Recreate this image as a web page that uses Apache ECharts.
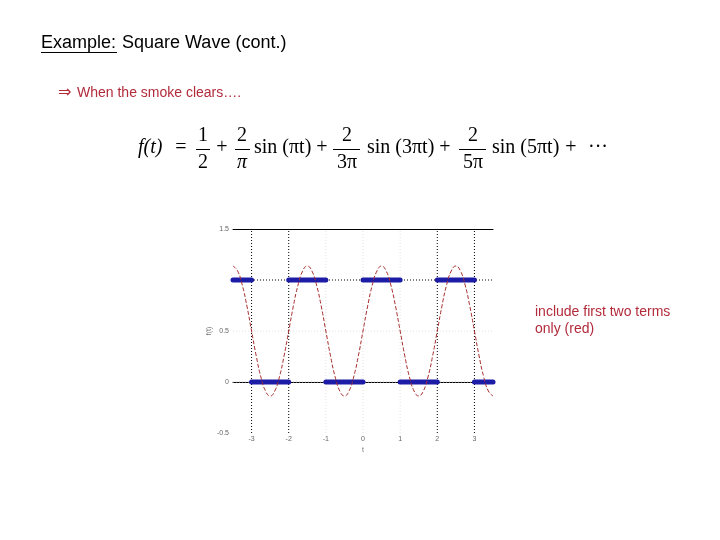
<!DOCTYPE html>
<html><head><meta charset="utf-8">
<script src="https://cdn.jsdelivr.net/npm/echarts@6/dist/echarts.min.js"></script>
<style>html,body{margin:0;padding:0;background:#fff}#c{width:720px;height:540px}</style>
</head><body><div id="c"></div>
<script>
// ---- data ----
const xTickLabels = [-3, -2, -1, 0, 1, 2, 3];
const yTickLabels = [-0.5, 0, 0.5, 1.5];
const squareStart = [-3.5, -3, -2, -1, 0, 1, 2, 3];
const squareEnd   = [-3, -2, -1, 0, 1, 2, 3, 3.5];
const squareLevel = [1, 0, 1, 0, 1, 0, 1, 0];
const redT = [-3.5,-3.375,-3.25,-3.125,-3,-2.875,-2.75,-2.625,-2.5,-2.375,-2.25,-2.125,-2,-1.875,-1.75,-1.625,-1.5,-1.375,-1.25,-1.125,-1,-0.875,-0.75,-0.625,-0.5,-0.375,-0.25,-0.125,0,0.125,0.25,0.375,0.5,0.625,0.75,0.875,1,1.125,1.25,1.375,1.5,1.625,1.75,1.875,2,2.125,2.25,2.375,2.5,2.625,2.75,2.875,3,3.125,3.25,3.375,3.5];
const redF = [1.137,1.088,0.950,0.744,0.5,0.256,0.050,-0.088,-0.137,-0.088,0.050,0.256,0.5,0.744,0.950,1.088,
              1.137,1.088,0.950,0.744,0.5,0.256,0.050,-0.088,-0.137,-0.088,0.050,0.256,0.5,0.744,0.950,1.088,
              1.137,1.088,0.950,0.744,0.5,0.256,0.050,-0.088,-0.137,-0.088,0.050,0.256,0.5,0.744,0.950,1.088,
              1.137,1.088,0.950,0.744,0.5,0.256,0.050,-0.088,-0.137];
const darkGridX = [-3, -2, 2, 3];
const faintGridX = [-1, 0, 1];
const darkGridY = [1];
const midGridY = [0];
const faintGridY = [0.5];
const xMin = -3.5, xMax = 3.5, yMin = -0.5, yMax = 1.5;

// ---- chart ----
const chart = echarts.init(document.getElementById('c'));
const blue = '#1c1ca6';
const red = '#a82c2c';
const series = [];
function gridV(v, color) {
  series.push({type: 'line', showSymbol: false, silent: true, z: 1, data: [[v, yMin], [v, yMax]],
    lineStyle: {color: color, width: 1, type: [1, 2]}});
}
function gridH(v, color) {
  series.push({type: 'line', showSymbol: false, silent: true, z: 1, data: [[xMin, v], [xMax, v]],
    lineStyle: {color: color, width: 1, type: [1, 2]}});
}
faintGridX.forEach(v => gridV(v, '#e2e2e2'));
faintGridY.forEach(v => gridH(v, '#e2e2e2'));
midGridY.forEach(v => gridH(v, '#bbb'));
darkGridX.forEach(v => gridV(v, '#000'));
darkGridY.forEach(v => gridH(v, '#000'));
squareStart.forEach((s, i) => {
  series.push({type: 'line', showSymbol: false, z: 3, silent: true,
    data: [[s, squareLevel[i]], [squareEnd[i], squareLevel[i]]],
    lineStyle: {color: blue, width: 5, cap: 'round'}});
});
series.push({type: 'line', showSymbol: false, smooth: true, z: 4, silent: true,
  data: redT.map((t, i) => [t, redF[i]]),
  lineStyle: {color: red, width: 1, type: [4, 2]}});

const serif = '"Liberation Serif", "DejaVu Serif", serif';
function txt(x, y, s, font, align, fill) {
  return {type: 'text', x: x, y: y, silent: true,
    style: {text: s, font: font, fill: fill || '#000', align: align || 'center', verticalAlign: 'middle',
            textAlign: align || 'center', textVerticalAlign: 'middle'}};
}
function bar(x1, x2, y) {
  return {type: 'line', silent: true, shape: {x1: x1, y1: y, x2: x2, y2: y}, style: {stroke: '#000', lineWidth: 1}};
}
const F = '20px ' + serif;
const FI = 'italic 20px ' + serif;
const graphics = [
  txt(41, 43, 'Example:', '18px "Liberation Sans", Arial, sans-serif', 'left'),
  bar(41, 117, 52.5),
  txt(122, 43, 'Square Wave (cont.)', '18px "Liberation Sans", Arial, sans-serif', 'left'),
  txt(58, 93, '\u21D2', '16px "DejaVu Sans", sans-serif', 'left', '#b22b3b'),
  txt(77, 93, 'When the smoke clears….', '14px "Liberation Sans", Arial, sans-serif', 'left', '#b22b3b'),
  txt(535, 312, 'include first two terms', '14px "Liberation Sans", Arial, sans-serif', 'left', '#b22b3b'),
  txt(535, 329, 'only (red)', '14px "Liberation Sans", Arial, sans-serif', 'left', '#b22b3b'),
  txt(138, 148, 'f(t)', FI, 'left'),
  txt(181, 148, '=', F),
  txt(203, 136, '1', F), bar(196, 210, 149.5), txt(203, 163, '2', F),
  txt(222, 148, '+', F),
  txt(242, 136, '2', F), bar(235, 250, 149.5), txt(242, 163, 'π', FI),
  txt(254, 148, 'sin (πt)', F, 'left'),
  txt(322, 148, '+', F),
  txt(347, 136, '2', F), bar(333, 360, 149.5), txt(347, 163, '3π', F),
  txt(367, 148, 'sin (3πt)', F, 'left'),
  txt(445, 148, '+', F),
  txt(473, 136, '2', F), bar(459, 486, 149.5), txt(473, 163, '5π', F),
  txt(492, 148, 'sin (5πt)', F, 'left'),
  txt(571, 148, '+', F),
  txt(598, 148, '···', F)
];

chart.setOption({
  animation: false,
  backgroundColor: '#fff',
  grid: {left: 233, right: 227, top: 229, bottom: 107},
  xAxis: [{
    type: 'value', min: xMin, max: xMax, name: 't', nameLocation: 'middle', nameGap: 14,
    nameTextStyle: {fontSize: 7, color: '#777'},
    axisLine: {lineStyle: {color: '#000', width: 1}}, axisTick: {show: false},
    axisLabel: {customValues: xTickLabels, fontSize: 7, color: '#666', margin: 3},
    splitLine: {show: false}
  }, {
    type: 'value', min: xMin, max: xMax, position: 'top',
    axisLine: {show: true, lineStyle: {color: '#000', width: 1}}, axisTick: {show: false},
    axisLabel: {show: false}, splitLine: {show: false}
  }],
  yAxis: {
    type: 'value', min: yMin, max: yMax, interval: 0.5, name: 'f(t)', nameLocation: 'middle', nameGap: 18,
    nameRotate: 90, nameTextStyle: {fontSize: 7, color: '#777'},
    axisLine: {show: false}, axisTick: {show: false},
    axisLabel: {customValues: yTickLabels, fontSize: 7, color: '#666', margin: 4},
    splitLine: {show: false}
  },
  series: series,
  graphic: graphics
});
</script>
</body></html>
